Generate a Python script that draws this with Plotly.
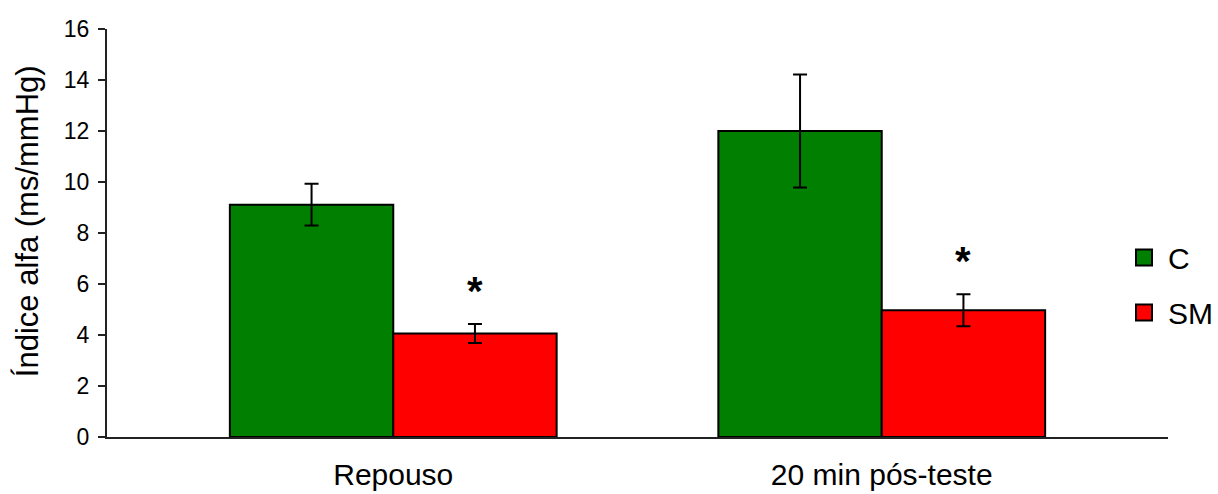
import plotly.graph_objects as go

# Baroreflex sensitivity (alpha index) by condition and group
categories = ["Repouso", "20 min pós-teste"]
c_values = [9.11, 12.0]
c_errors = [0.82, 2.22]
sm_values = [4.06, 4.97]
sm_errors = [0.37, 0.63]
significant_sm = [True, True]
y_ticks = [0, 2, 4, 6, 8, 10, 12, 14, 16]

GREEN = "#007f00"
RED = "#ff0000"
FONT = "Liberation Sans, Arial, Helvetica, sans-serif"
BARGAP = 0.331

fig = go.Figure()

for name, vals, errs, color in [("C", c_values, c_errors, GREEN),
                                ("SM", sm_values, sm_errors, RED)]:
    fig.add_trace(go.Bar(
        x=categories, y=vals, name=name, showlegend=False,
        marker=dict(color=color, line=dict(color="black", width=2)),
        error_y=dict(type="data", array=errs, visible=True,
                     color="black", thickness=2, width=7),
    ))

# Legend entries with large square swatches
for i, (name, color) in enumerate([("C", GREEN), ("SM", RED)]):
    fig.add_trace(go.Scatter(
        x=[None], y=[None], mode="markers", name=name,
        legendgroup=name, legendrank=i,
        marker=dict(symbol="square", size=17, color=color,
                    line=dict(color="black", width=2)),
    ))

# Significance markers above the SM bars
bar_width = (1 - BARGAP) / 2
for i, (v, e, sig) in enumerate(zip(sm_values, sm_errors, significant_sm)):
    if sig:
        fig.add_annotation(
            x=i + bar_width / 2, y=v + e + 1.47, text="<b>*</b>",
            showarrow=False, font=dict(size=40, color="black", family=FONT),
            yanchor="middle", yshift=-4,
        )

# Y-axis title, set slightly above the vertical centre of the plot
fig.add_annotation(
    xref="paper", yref="paper", x=-0.075, y=0.53,
    text="Índice alfa (ms/mmHg)", textangle=-90, showarrow=False,
    font=dict(size=31, color="black", family=FONT),
    xanchor="center", yanchor="middle",
)

fig.update_layout(
    width=1218, height=494,
    margin=dict(l=107, r=50, t=29, b=57, autoexpand=False),
    paper_bgcolor="white", plot_bgcolor="white",
    barmode="group", bargap=BARGAP, bargroupgap=0,
    font=dict(family=FONT, color="black", size=26),
    legend=dict(xref="container", yref="container",
                x=1120 / 1218, y=1 - 285 / 494, xanchor="left", yanchor="middle",
                bgcolor="rgba(0,0,0,0)", tracegroupgap=13,
                font=dict(size=30), itemwidth=38),
    xaxis=dict(
        range=[-0.586, 1.586], showline=True, linecolor="#222", linewidth=2,
        ticks="", showgrid=False, tickfont=dict(size=30), ticklabelstandoff=10,
        automargin=False,
    ),
    yaxis=dict(
        range=[0, 16], tickvals=y_ticks, showline=True, linecolor="#222",
        linewidth=2, ticks="outside", ticklen=7, tickwidth=1.5, tickcolor="#222",
        showgrid=False, zeroline=False, tickfont=dict(size=23), automargin=False,
        ticklabelstandoff=4,
    ),
)

fig.write_html("out.html")
